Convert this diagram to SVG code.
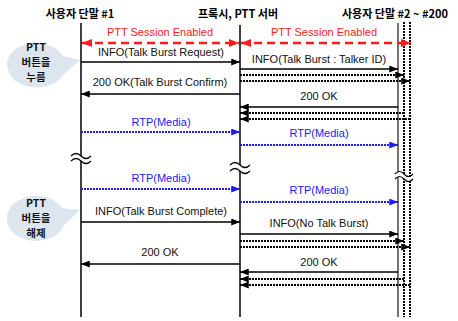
<svg xmlns="http://www.w3.org/2000/svg" width="458" height="321" viewBox="0 0 458 321">
  <style>
    .hdr { font-family: "Noto Sans CJK KR", "Liberation Sans", sans-serif; font-size: 11px; font-weight: bold; fill: #000; text-anchor: middle; }
    .lbl { font-family: "Liberation Sans", Arial, sans-serif; font-size: 11px; fill: #111; text-anchor: middle; }
    .red { fill: #ff1a1a; }
    .blue { fill: #1a1aff; }
    .bub { font-family: "Noto Sans CJK KR", "Liberation Sans", sans-serif; font-size: 10.5px; font-weight: bold; fill: #111; text-anchor: middle; }
    .life { stroke: #000; stroke-width: 1.5; fill: none; }
    .lifeg { stroke: #444; stroke-width: 1.5; fill: none; }
    .lifed { stroke: #000; stroke-width: 2; stroke-dasharray: 2 1; fill: none; }
    .msg { stroke: #000; stroke-width: 1.3; fill: none; }
    .dot { stroke: #000; stroke-width: 2; stroke-dasharray: 2 1; fill: none; }
    .rtp { stroke: #1a1aff; stroke-width: 2; stroke-dasharray: 2 1; fill: none; }
    .sess { stroke: #ff1a1a; stroke-width: 2.5; stroke-dasharray: 8 5; fill: none; }
    .brk { stroke: #000; stroke-width: 1.2; fill: none; }
    .bubble { fill: #dde5ef; stroke: none; }
  </style>
  <defs>
    <marker id="ah" viewBox="0 0 10 8" refX="10" refY="4" markerWidth="10" markerHeight="7" markerUnits="userSpaceOnUse" orient="auto-start-reverse">
      <path d="M0,0 L10,4 L0,8 z" fill="#000"/>
    </marker>
    <marker id="ahr" viewBox="0 0 10 8" refX="10" refY="4" markerWidth="10" markerHeight="8" markerUnits="userSpaceOnUse" orient="auto-start-reverse">
      <path d="M0,0 L10,4 L0,8 z" fill="#ff1a1a"/>
    </marker>
    <marker id="ahb" viewBox="0 0 10 8" refX="10" refY="4" markerWidth="10" markerHeight="7" markerUnits="userSpaceOnUse" orient="auto-start-reverse">
      <path d="M0,0 L10,4 L0,8 z" fill="#1a1aff"/>
    </marker>
  </defs>

  <!-- participants -->
  <g id="ue1">
    <text class="hdr" x="80" y="18">사용자 단말 #1</text>
    <line class="life" x1="81" y1="23" x2="81" y2="317"/>
  </g>
  <g id="server">
    <text class="hdr" x="238" y="18">프록시, PTT 서버</text>
    <line class="life" x1="240" y1="25" x2="240" y2="317"/>
  </g>
  <g id="ue2">
    <text class="hdr" x="395" y="18">사용자 단말 #2 ~ #200</text>
    <line class="lifeg" x1="398" y1="23" x2="398" y2="317"/>
    <line class="lifed" x1="404" y1="22" x2="404" y2="317"/>
    <line class="lifed" x1="410" y1="22" x2="410" y2="317"/>
  </g>

  <!-- callouts -->
  <g id="press">
    <path class="bubble" d="M80,60 L62,56 A29,21 0 1 0 64,74 Z"/>
    <ellipse class="bubble" cx="36" cy="64" rx="29" ry="21"/>
    <text class="bub" x="36" y="51">PTT</text>
    <text class="bub" x="36" y="66">버튼을</text>
    <text class="bub" x="36" y="81">누름</text>
  </g>
  <g id="release">
    <path class="bubble" d="M80,210 L62,208 A29,22 0 1 0 63,226 Z"/>
    <ellipse class="bubble" cx="36" cy="219" rx="29" ry="22"/>
    <text class="bub" x="36" y="207">PTT</text>
    <text class="bub" x="36" y="222">버튼을</text>
    <text class="bub" x="36" y="237">해제</text>
  </g>

  <!-- messages -->
  <g id="connectors">
    <text class="lbl red" x="160" y="36">PTT Session Enabled</text>
    <line class="sess" x1="82" y1="43" x2="239" y2="43" marker-start="url(#ahr)" marker-end="url(#ahr)"/>
    <text class="lbl red" x="324" y="36">PTT Session Enabled</text>
    <line class="sess" x1="241" y1="43" x2="411" y2="43" marker-start="url(#ahr)" marker-end="url(#ahr)"/>

    <text class="lbl" x="161" y="56">INFO(Talk Burst Request)</text>
    <line class="msg" x1="81" y1="62" x2="240" y2="62" marker-end="url(#ah)"/>

    <text class="lbl" x="319" y="63">INFO(Talk Burst : Talker ID)</text>
    <line class="msg" x1="240" y1="69" x2="398" y2="69" marker-end="url(#ah)"/>
    <line class="dot" x1="240" y1="75" x2="404" y2="75" marker-end="url(#ah)"/>
    <line class="dot" x1="240" y1="81" x2="410" y2="81" marker-end="url(#ah)"/>

    <text class="lbl" x="160" y="86">200 OK(Talk Burst Confirm)</text>
    <line class="msg" x1="240" y1="94" x2="81" y2="94" marker-end="url(#ah)"/>

    <text class="lbl" x="319" y="100">200 OK</text>
    <line class="msg" x1="398" y1="107" x2="240" y2="107" marker-end="url(#ah)"/>
    <line class="dot" x1="404" y1="113" x2="240" y2="113" marker-end="url(#ah)"/>
    <line class="dot" x1="410" y1="119" x2="240" y2="119" marker-end="url(#ah)"/>

    <text class="lbl blue" x="161" y="126">RTP(Media)</text>
    <line class="rtp" x1="81" y1="132" x2="240" y2="132" marker-end="url(#ahb)"/>
    <text class="lbl blue" x="319" y="137">RTP(Media)</text>
    <line class="rtp" x1="240" y1="145" x2="398" y2="145" marker-end="url(#ahb)"/>

    <text class="lbl blue" x="161" y="182">RTP(Media)</text>
    <line class="rtp" x1="81" y1="189" x2="240" y2="189" marker-end="url(#ahb)"/>
    <text class="lbl blue" x="319" y="194">RTP(Media)</text>
    <line class="rtp" x1="240" y1="202" x2="398" y2="202" marker-end="url(#ahb)"/>

    <text class="lbl" x="161" y="215">INFO(Talk Burst Complete)</text>
    <line class="msg" x1="81" y1="222" x2="240" y2="222" marker-end="url(#ah)"/>

    <text class="lbl" x="319" y="227">INFO(No Talk Burst)</text>
    <line class="msg" x1="240" y1="234" x2="398" y2="234" marker-end="url(#ah)"/>
    <line class="dot" x1="240" y1="241" x2="404" y2="241" marker-end="url(#ah)"/>
    <line class="dot" x1="240" y1="247" x2="410" y2="247" marker-end="url(#ah)"/>

    <text class="lbl" x="160" y="256">200 OK</text>
    <line class="msg" x1="240" y1="264" x2="81" y2="264" marker-end="url(#ah)"/>

    <text class="lbl" x="319" y="266">200 OK</text>
    <line class="msg" x1="398" y1="272" x2="240" y2="272" marker-end="url(#ah)"/>
    <line class="dot" x1="404" y1="279" x2="240" y2="279" marker-end="url(#ah)"/>
    <line class="dot" x1="410" y1="285" x2="240" y2="285" marker-end="url(#ah)"/>
  </g>

  <!-- time breaks on the lifelines -->
  <g id="breaks">
    <path d="M71,156 q5,-5 10,0 t10,0 v5 q-5,5 -10,0 t-10,0 z" fill="#fff"/>
    <path class="brk" d="M71,156 q5,-5 10,0 t10,0"/>
    <path class="brk" d="M71,161 q5,-5 10,0 t10,0"/>

    <path d="M230,165 q5,-5 10,0 t10,0 v6 q-5,5 -10,0 t-10,0 z" fill="#fff"/>
    <path class="brk" d="M230,165 q5,-5 10,0 t10,0"/>
    <path class="brk" d="M230,171 q5,-5 10,0 t10,0"/>

    <path d="M395,174 q4.5,-5 9,0 t9,0 v5 q-4.5,5 -9,0 t-9,0 z" fill="#fff"/>
    <path class="brk" d="M395,174 q4.5,-5 9,0 t9,0"/>
    <path class="brk" d="M395,179 q4.5,-5 9,0 t9,0"/>
  </g>
</svg>
